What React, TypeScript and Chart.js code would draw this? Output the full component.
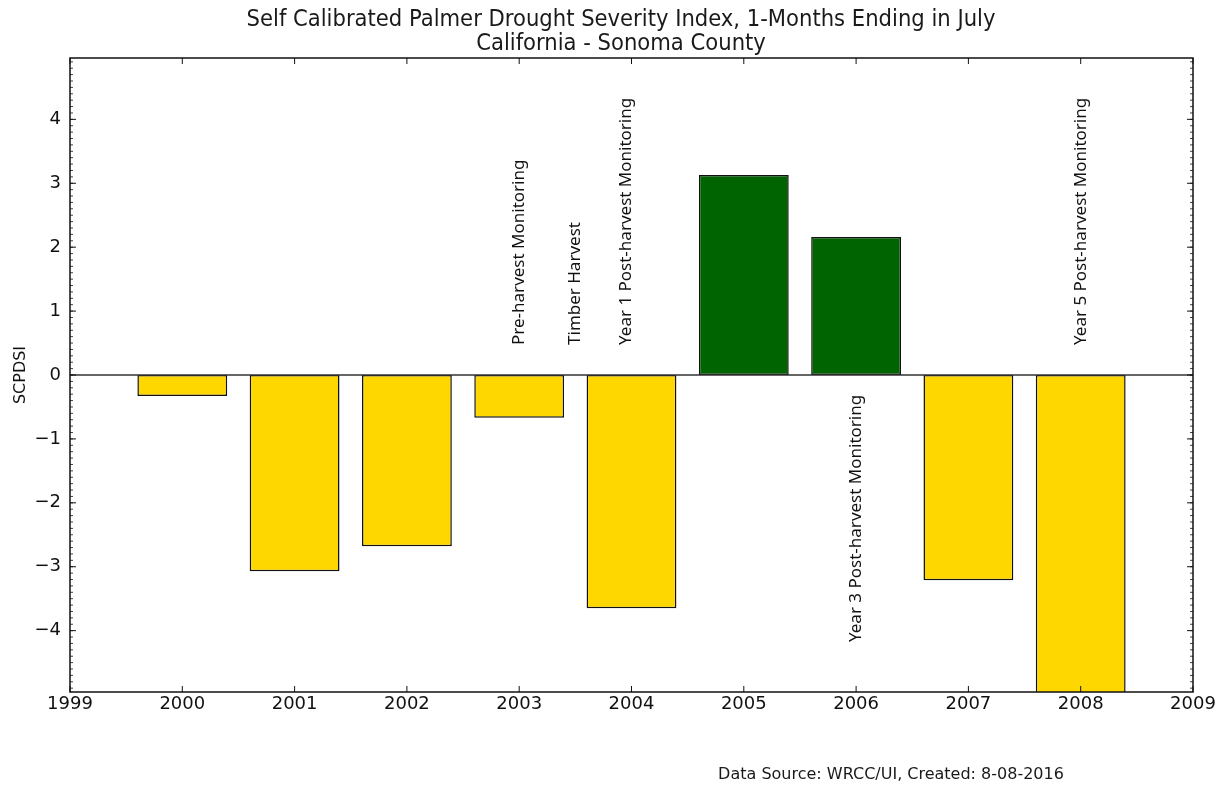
import React, { useEffect, useRef } from "react";
import { Chart, registerables } from "chart.js";

Chart.register(...registerables);

const years = [2000, 2001, 2002, 2003, 2004, 2005, 2006, 2007, 2008];
const scpdsi = [-0.33, -3.07, -2.68, -0.67, -3.65, 3.13, 2.16, -3.21, -5.3];
const barColors = ["#FFD700", "#FFD700", "#FFD700", "#FFD700", "#FFD700", "#006400", "#006400", "#FFD700", "#FFD700"];
const xTicks = [1999, 2000, 2001, 2002, 2003, 2004, 2005, 2006, 2007, 2008, 2009];
const yTicks = [-4, -3, -2, -1, 0, 1, 2, 3, 4];
const yMinorStep = 0.1;
const titleLines = [
  "Self Calibrated Palmer Drought Severity Index, 1-Months Ending in July",
  "California - Sonoma County",
];
const yAxisTitle = "SCPDSI";
const footnote = "Data Source: WRCC/UI, Created: 8-08-2016";
const annotationLabels = [
  "Pre-harvest Monitoring",
  "Timber Harvest",
  "Year 1 Post-harvest Monitoring",
  "Year 3 Post-harvest Monitoring",
  "Year 5 Post-harvest Monitoring",
];
const annotationX = [2003.0, 2003.5, 2003.95, 2006.0, 2008.0];
const annotationY = [0.47, 0.47, 0.47, -0.31, 0.47];
const annotationAlign = ["left", "left", "left", "right", "left"];

const xMin = 1999;
const xMax = 2009;
const yMin = -4.96;
const yMax = 4.96;

const fmt = (v: number) => (v < 0 ? "\u2212" + Math.abs(v) : String(v));

const framePlugin = {
  id: "frame",
  afterDatasetsDraw(chart: any) {
    const { ctx, chartArea: a, scales } = chart;
    const x = scales.x;
    const y = scales.y;
    ctx.save();
    // zero line
    ctx.strokeStyle = "#333";
    ctx.lineWidth = 1.5;
    const y0 = y.getPixelForValue(0);
    ctx.beginPath();
    ctx.moveTo(a.left, y0);
    ctx.lineTo(a.right, y0);
    ctx.stroke();
    // frame
    ctx.strokeStyle = "#111";
    ctx.lineWidth = 1.5;
    ctx.strokeRect(a.left, a.top, a.right - a.left, a.bottom - a.top);
    // x ticks (inward, top and bottom)
    ctx.lineWidth = 1;
    for (const t of xTicks) {
      const px = x.getPixelForValue(t);
      ctx.beginPath();
      ctx.moveTo(px, a.bottom);
      ctx.lineTo(px, a.bottom - 6);
      ctx.moveTo(px, a.top);
      ctx.lineTo(px, a.top + 6);
      ctx.stroke();
    }
    // y major ticks
    for (const t of yTicks) {
      const py = y.getPixelForValue(t);
      ctx.beginPath();
      ctx.moveTo(a.left, py);
      ctx.lineTo(a.left + 6, py);
      ctx.moveTo(a.right, py);
      ctx.lineTo(a.right - 6, py);
      ctx.stroke();
    }
    // y minor ticks
    ctx.lineWidth = 0.8;
    const n = Math.round((yMax - yMin) / yMinorStep) + 2;
    for (let i = -n; i <= n; i++) {
      const v = i * yMinorStep;
      if (v < yMin || v > yMax) continue;
      const py = y.getPixelForValue(v);
      ctx.beginPath();
      ctx.moveTo(a.left, py);
      ctx.lineTo(a.left + 3, py);
      ctx.moveTo(a.right, py);
      ctx.lineTo(a.right - 3, py);
      ctx.stroke();
    }
    // annotations
    ctx.fillStyle = "#111";
    ctx.font = "17px 'Noto Sans'";
    ctx.textBaseline = "middle";
    annotationLabels.forEach((label, i) => {
      const px = x.getPixelForValue(annotationX[i]);
      const py = y.getPixelForValue(annotationY[i]);
      ctx.save();
      ctx.translate(px, py);
      ctx.rotate(-Math.PI / 2);
      ctx.textAlign = annotationAlign[i] as CanvasTextAlign;
      ctx.fillText(label, 0, 0);
      ctx.restore();
    });
    // title
    ctx.fillStyle = "#1a1a1a";
    ctx.font = "23.5px 'DejaVu Sans Condensed', 'DejaVu Sans'";
    ctx.textAlign = "center";
    ctx.textBaseline = "middle";
    ctx.fillText(titleLines[0], 621, 20);
    ctx.fillText(titleLines[1], 621, 44);
    // footnote
    ctx.font = "16px 'DejaVu Sans'";
    ctx.fillText(footnote, 891, 775);
    ctx.restore();
  },
};

export default function App() {
  const ref = useRef<HTMLCanvasElement>(null);
  useEffect(() => {
    if (!ref.current) return;
    const chart = new Chart(ref.current, {
      type: "bar",
      data: {
        datasets: [
          {
            data: years.map((yr, i) => ({ x: yr, y: scpdsi[i] })),
            backgroundColor: barColors,
            borderColor: "#111",
            borderWidth: 1.5,
            borderSkipped: false,
            categoryPercentage: 1,
            barPercentage: 0.8,
          } as any,
        ],
      },
      options: {
        animation: false,
        responsive: true,
        maintainAspectRatio: false,
        layout: { padding: { top: 58, right: 31, left: 0, bottom: 0 } },
        plugins: { legend: { display: false }, tooltip: { enabled: false }, title: { display: false } },
        scales: {
          x: {
            type: "linear",
            min: xMin,
            max: xMax,
            offset: false,
            grid: { display: false, drawTicks: false },
            border: { display: false },
            afterBuildTicks: (s: any) => {
              s.ticks = xTicks.map((v) => ({ value: v }));
            },
            afterFit: (s: any) => {
              s.height = 95;
            },
            ticks: {
              padding: 2,
              color: "#111",
              font: { family: "'DejaVu Sans'", size: 18 },
              callback: (v: any) => String(v),
              maxRotation: 0,
            },
          },
          y: {
            type: "linear",
            min: yMin,
            max: yMax,
            grid: { display: false, drawTicks: false },
            border: { display: false },
            afterBuildTicks: (s: any) => {
              s.ticks = yTicks.map((v) => ({ value: v }));
            },
            afterFit: (s: any) => {
              s.width = 70;
            },
            title: {
              display: true,
              text: yAxisTitle,
              color: "#111",
              font: { family: "'DejaVu Sans'", size: 16 },
              padding: { top: 11, bottom: 0 },
            },
            ticks: {
              padding: 9,
              color: "#111",
              font: { family: "'DejaVu Sans'", size: 18 },
              callback: (v: any) => fmt(Number(v)),
            },
          },
        },
      },
      plugins: [framePlugin],
    });
    return () => chart.destroy();
  }, []);
  return (
    <div style={{ position: "absolute", left: 0, top: 0, width: 1224, height: 787, background: "#fff" }}>
      <canvas ref={ref} />
    </div>
  );
}
